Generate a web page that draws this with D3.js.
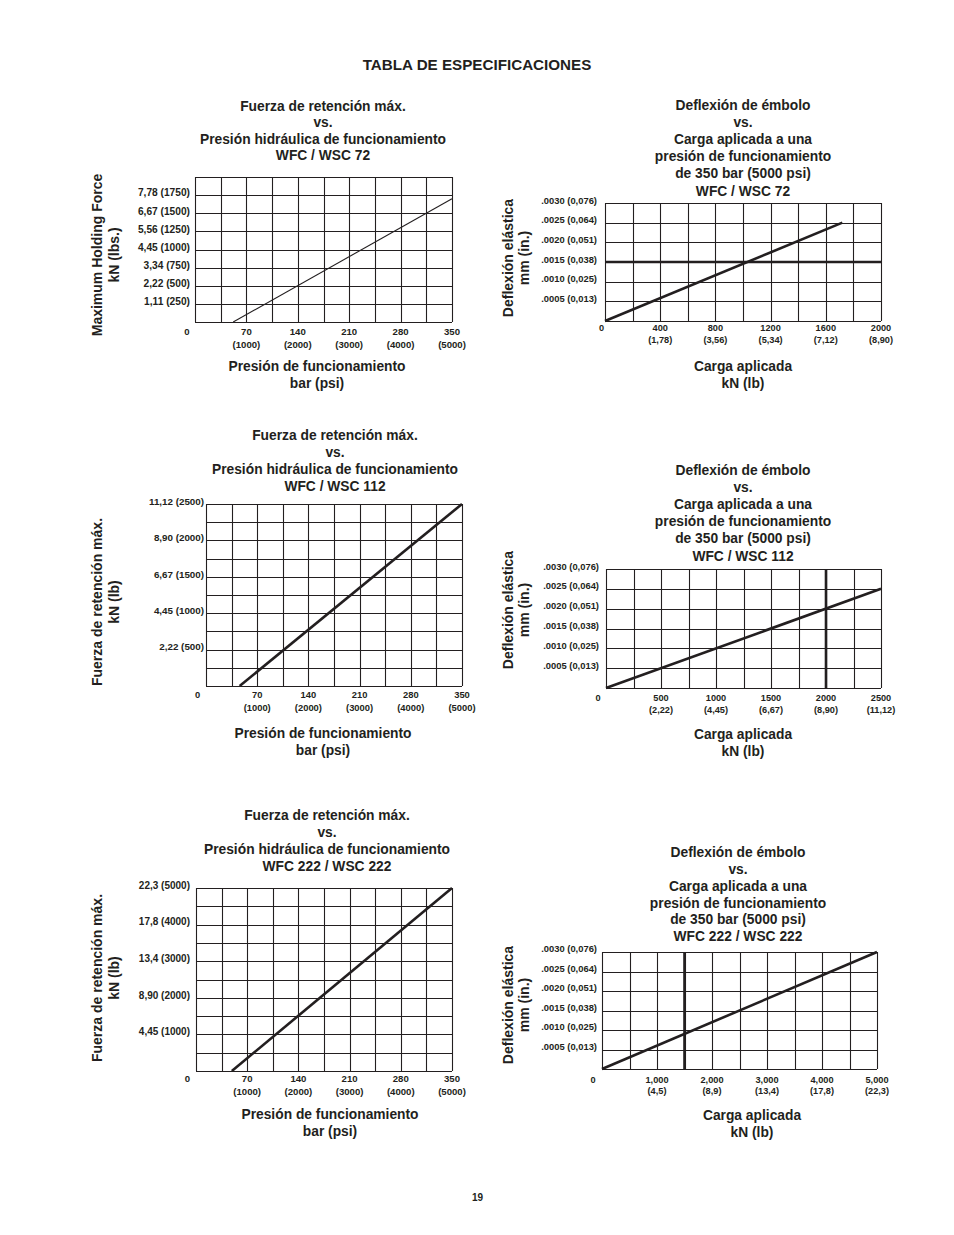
<!DOCTYPE html>
<html><head><meta charset="utf-8">
<script src="https://cdn.jsdelivr.net/npm/d3@7"></script>
<style>
body{margin:0;background:#fff}
svg{display:block}
text{font-family:"Liberation Sans",Arial,Helvetica,sans-serif;font-weight:bold;fill:#231f20}
</style>
</head><body>
<svg id="c" width="954" height="1235"></svg>
<script>
// ---------- DATA ----------
const pageTitle = "TABLA DE ESPECIFICACIONES";
const pageNumber = "19";

const forceTitle72 = ["Fuerza de retención máx.","vs.","Presión hidráulica de funcionamiento","WFC / WSC 72"];
const forceTitle112 = ["Fuerza de retención máx.","vs.","Presión hidráulica de funcionamiento","WFC / WSC 112"];
const forceTitle222 = ["Fuerza de retención máx.","vs.","Presión hidráulica de funcionamiento","WFC 222 / WSC 222"];
const deflTitle72 = ["Deflexión de émbolo","vs.","Carga aplicada a una","presión de funcionamiento","de 350 bar (5000 psi)","WFC / WSC 72"];
const deflTitle112 = ["Deflexión de émbolo","vs.","Carga aplicada a una","presión de funcionamiento","de 350 bar (5000 psi)","WFC / WSC 112"];
const deflTitle222 = ["Deflexión de émbolo","vs.","Carga aplicada a una","presión de funcionamiento","de 350 bar (5000 psi)","WFC 222 / WSC 222"];

const forceYTitle72 = ["Maximum Holding Force","kN (lbs.)"];
const forceYTitle = ["Fuerza de retención máx.","kN (lb)"];
const forceXTitle = ["Presión de funcionamiento","bar (psi)"];
const deflYTitle = ["Deflexión elástica","mm (in.)"];
const deflXTitle = ["Carga aplicada","kN (lb)"];

const pressureBar = [70,140,210,280,350];
const pressurePsi = ["(1000)","(2000)","(3000)","(4000)","(5000)"];

const force72Ticks = [250,500,750,1000,1250,1500,1750];
const force72Labels = ["1,11 (250)","2,22 (500)","3,34 (750)","4,45 (1000)","5,56 (1250)","6,67 (1500)","7,78 (1750)"];
const force72Line = [[52,0],[350,1700]];

const force112Ticks = [500,1000,1500,2000,2500];
const force112Labels = ["2,22 (500)","4,45 (1000)","6,67 (1500)","8,90 (2000)","11,12 (2500)"];
const force112Line = [[46,0],[350,2500]];

const force222Ticks = [1000,2000,3000,4000,5000];
const force222Labels = ["4,45 (1000)","8,90 (2000)","13,4 (3000)","17,8 (4000)","22,3 (5000)"];
const force222Line = [[49,0],[350,5000]];

const deflTicks = [0.0005,0.0010,0.0015,0.0020,0.0025,0.0030];
const deflLabels = [".0005 (0,013)",".0010 (0,025)",".0015 (0,038)",".0020 (0,051)",".0025 (0,064)",".0030 (0,076)"];

const load72Ticks = [400,800,1200,1600,2000];
const load72Labels = ["400","800","1200","1600","2000"];
const load72Kn = ["(1,78)","(3,56)","(5,34)","(7,12)","(8,90)"];
const defl72Line = [[0,0],[1720,0.0025]];
const defl72RefY = 0.0015;

const load112Ticks = [500,1000,1500,2000,2500];
const load112Labels = ["500","1000","1500","2000","2500"];
const load112Kn = ["(2,22)","(4,45)","(6,67)","(8,90)","(11,12)"];
const defl112Line = [[0,0],[2500,0.0025]];
const defl112RefX = 2000;

const load222Ticks = [1000,2000,3000,4000,5000];
const load222Labels = ["1,000","2,000","3,000","4,000","5,000"];
const load222Kn = ["(4,5)","(8,9)","(13,4)","(17,8)","(22,3)"];
const defl222Line = [[0,0],[5000,0.003]];
const defl222RefX = 1500;

// ---------- CHART SPECS (data + layout) ----------
const charts = [
  {title:forceTitle72, yTitle:forceYTitle72, xTitle:forceXTitle,
   xDom:350, xDiv:10, yDom:2000, yDiv:8,
   yTicks:force72Ticks, yLabels:force72Labels, xTicks:pressureBar, xLabels:pressureBar.map(String), xSub:pressurePsi,
   line:force72Line, lineW:1.1,
   L:{x0:195,x1:452,y0:177,y1:322, tx:323, ty:106, tdy:16.6, ytx:[96.5,113.5], yty:255, xtx:317, xty:[366,383],
      yfs:10.2, yGap:5, yOff:-2.7, xfs:9.6, xl1:9, xl2:22, zx:-8}},
  {title:deflTitle72, yTitle:deflYTitle, xTitle:deflXTitle,
   xDom:2000, xDiv:10, yDom:0.003, yDiv:6,
   yTicks:deflTicks, yLabels:deflLabels, xTicks:load72Ticks, xLabels:load72Labels, xSub:load72Kn,
   line:defl72Line, lineW:2.6, refY:defl72RefY,
   L:{x0:605,x1:881,y0:203,y1:321, tx:743, ty:105, tdy:17.2, ytx:[507.5,523.5], yty:258, xtx:743, xty:[366,383],
      yfs:9.4, yGap:8, yOff:-3.5, xfs:9.2, xl1:7, xl2:19, zx:-3.5}},
  {title:forceTitle112, yTitle:forceYTitle, xTitle:forceXTitle,
   xDom:350, xDiv:10, yDom:2500, yDiv:10,
   yTicks:force112Ticks, yLabels:force112Labels, xTicks:pressureBar, xLabels:pressureBar.map(String), xSub:pressurePsi,
   line:force112Line, lineW:2.6,
   L:{x0:206,x1:462,y0:504,y1:686, tx:335, ty:435, tdy:17.2, ytx:[96.5,113.5], yty:602, xtx:323, xty:[733,750],
      yfs:9.8, yGap:2, yOff:-3.3, xfs:9.4, xl1:8.5, xl2:21, zx:-8.5}},
  {title:deflTitle112, yTitle:deflYTitle, xTitle:deflXTitle,
   xDom:2500, xDiv:10, yDom:0.003, yDiv:6,
   yTicks:deflTicks, yLabels:deflLabels, xTicks:load112Ticks, xLabels:load112Labels, xSub:load112Kn,
   line:defl112Line, lineW:2.6, refX:defl112RefX,
   L:{x0:606,x1:881,y0:569,y1:688, tx:743, ty:470, tdy:17.2, ytx:[507.5,523.5], yty:610, xtx:743, xty:[734,751],
      yfs:9.4, yGap:7, yOff:-3.5, xfs:9.2, xl1:10, xl2:22, zx:-8}},
  {title:forceTitle222, yTitle:forceYTitle, xTitle:forceXTitle,
   xDom:350, xDiv:10, yDom:5000, yDiv:10,
   yTicks:force222Ticks, yLabels:force222Labels, xTicks:pressureBar, xLabels:pressureBar.map(String), xSub:pressurePsi,
   line:force222Line, lineW:2.6,
   L:{x0:196,x1:452,y0:888,y1:1071, tx:327, ty:815, tdy:17.2, ytx:[96.5,113.5], yty:978, xtx:330, xty:[1114,1131.5],
      yfs:10, yGap:6, yOff:-3.3, xfs:9.6, xl1:7.5, xl2:20, zx:-8.5}},
  {title:deflTitle222, yTitle:deflYTitle, xTitle:deflXTitle,
   xDom:5000, xDiv:10, yDom:0.003, yDiv:6,
   yTicks:deflTicks, yLabels:deflLabels, xTicks:load222Ticks, xLabels:load222Labels, xSub:load222Kn,
   line:defl222Line, lineW:2.6, refX:defl222RefX,
   L:{x0:602,x1:877,y0:952,y1:1069, tx:738, ty:852.3, tdy:16.9, ytx:[507.5,523.5], yty:1005, xtx:752, xty:[1115,1132.5],
      yfs:9.4, yGap:5, yOff:-4, xfs:9.2, xl1:10.5, xl2:21.5, zx:-9}}
];

// ---------- DRAW ----------
const svg = d3.select("#c");
const INK = "#231f20";

svg.append("text").attr("x",477).attr("y",64).attr("text-anchor","middle")
  .attr("dominant-baseline","central").style("font-size","15.2px").text(pageTitle);
svg.append("text").attr("x",477.5).attr("y",1197).attr("text-anchor","middle")
  .attr("dominant-baseline","central").style("font-size","10px").text(pageNumber);

charts.forEach(c => {
  const L = c.L;
  const g = svg.append("g");
  const x = d3.scaleLinear().domain([0,c.xDom]).range([L.x0,L.x1]);
  const y = d3.scaleLinear().domain([0,c.yDom]).range([L.y1,L.y0]);

  // grid
  const gx = d3.range(c.xDiv+1).map(i => c.xDom*i/c.xDiv);
  const gy = d3.range(c.yDiv+1).map(i => c.yDom*i/c.yDiv);
  g.selectAll(".vg").data(gx).join("line")
    .attr("x1",d=>Math.round(x(d))+0.5).attr("x2",d=>Math.round(x(d))+0.5)
    .attr("y1",y(c.yDom)).attr("y2",y(0))
    .attr("stroke",INK).attr("stroke-width",1.1);
  g.selectAll(".hg").data(gy).join("line")
    .attr("y1",d=>Math.round(y(d))+0.5).attr("y2",d=>Math.round(y(d))+0.5)
    .attr("x1",x(0)).attr("x2",x(c.xDom))
    .attr("stroke",INK).attr("stroke-width",1.1);

  // reference heavy lines
  if (c.refY !== undefined) {
    g.append("line").attr("x1",x(0)).attr("x2",x(c.xDom))
      .attr("y1",y(c.refY)).attr("y2",y(c.refY))
      .attr("stroke",INK).attr("stroke-width",2.6);
  }
  if (c.refX !== undefined) {
    g.append("line").attr("y1",y(0)).attr("y2",y(c.yDom))
      .attr("x1",x(c.refX)).attr("x2",x(c.refX))
      .attr("stroke",INK).attr("stroke-width",2.6);
  }

  // data line
  g.append("path").datum(c.line)
    .attr("d", d3.line().x(d=>x(d[0])).y(d=>y(d[1])))
    .attr("fill","none").attr("stroke",INK).attr("stroke-width",c.lineW);

  // y tick labels via axis
  const ya = g.append("g").attr("transform",`translate(${L.x0},0)`)
    .call(d3.axisLeft(y).tickValues(c.yTicks).tickFormat((d,i)=>c.yLabels[i]).tickSize(0).tickPadding(L.yGap));
  ya.select(".domain").remove();
  ya.selectAll("text").attr("dy",null).attr("y",L.yOff).attr("dominant-baseline","central")
    .attr("font-family",null).attr("fill",INK).style("font-size",L.yfs+"px");

  // x tick labels (two lines)
  g.selectAll(".xl1").data(c.xTicks).join("text")
    .attr("x",d=>x(d)).attr("y",L.y1+L.xl1).attr("text-anchor","middle").attr("dominant-baseline","central")
    .style("font-size",L.xfs+"px").text((d,i)=>c.xLabels[i]);
  g.selectAll(".xl2").data(c.xTicks).join("text")
    .attr("x",d=>x(d)).attr("y",L.y1+L.xl2).attr("text-anchor","middle").attr("dominant-baseline","central")
    .style("font-size",L.xfs+"px").text((d,i)=>c.xSub[i]);
  g.append("text").attr("x",L.x0+L.zx).attr("y",L.y1+L.xl1).attr("text-anchor","middle")
    .attr("dominant-baseline","central").style("font-size",L.xfs+"px").text("0");

  // chart title
  g.selectAll(".tt").data(c.title).join("text")
    .attr("x",L.tx).attr("y",(d,i)=>L.ty+i*L.tdy).attr("text-anchor","middle").attr("dominant-baseline","central")
    .style("font-size","13.8px").text(d=>d);

  // x axis title
  g.selectAll(".xt").data(c.xTitle).join("text")
    .attr("x",L.xtx).attr("y",(d,i)=>L.xty[i]).attr("text-anchor","middle").attr("dominant-baseline","central")
    .style("font-size","13.8px").text(d=>d);

  // y axis title (rotated)
  g.selectAll(".yt").data(c.yTitle).join("text")
    .attr("transform",(d,i)=>`translate(${L.ytx[i]},${L.yty}) rotate(-90)`)
    .attr("text-anchor","middle").attr("dominant-baseline","central")
    .style("font-size","14px").text(d=>d);
});
</script>
</body></html>
